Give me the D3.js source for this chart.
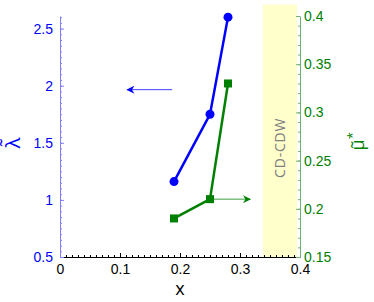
<!DOCTYPE html>
<html>
<head>
<meta charset="utf-8">
<script src="https://cdn.jsdelivr.net/npm/d3@7"></script>
<style>
  body { margin: 0; background: #fff; }
  svg { display: block; font-family: "Open Sans", sans-serif; }
</style>
</head>
<body>
<div id="chart"></div>
<script>
const xValues = [0.19, 0.25, 0.28];
const lambdaValues = [1.16, 1.75, 2.6];
const muValues = [0.19, 0.21, 0.33];

const xTicks = [0, 0.1, 0.2, 0.3, 0.4];
const lambdaTicks = [0.5, 1, 1.5, 2, 2.5];
const muTicks = [0.15, 0.2, 0.25, 0.3, 0.35, 0.4];

const band = { x0: 0.338, x1: 0.395, top: 2.71, label: "CD-CDW" };
const blueArrow = { from: 0.187, to: 0.112, y: 1.965 };
const greenArrow = { from: 0.255, to: 0.317, y: 0.21 };

const blue = "#0000ff";
const green = "#008000";

const width = 374, height = 302;
const margin = { top: 16, right: 74, bottom: 45, left: 60 };

const svg = d3.select("#chart").append("svg")
    .attr("width", width)
    .attr("height", height);

const x = d3.scaleLinear().domain([0, 0.4]).range([margin.left, width - margin.right]);
const yL = d3.scaleLinear().domain([0.5, 2.61]).range([height - margin.bottom, margin.top]);
const yR = d3.scaleLinear().domain([0.15, 0.4]).range([height - margin.bottom, margin.top]);

// shaded phase region
svg.append("rect")
    .attr("x", x(band.x0))
    .attr("width", x(band.x1) - x(band.x0))
    .attr("y", yL(band.top))
    .attr("height", yL(0.5) - yL(band.top))
    .attr("fill", "#ffffcc");

svg.append("text")
    .attr("transform", `translate(${(x(band.x0) + x(band.x1)) / 2 + 5},${(yL(band.top) + yL(0.5)) / 2 + 17}) rotate(-90)`)
    .attr("text-anchor", "middle")
    .attr("font-size", 14)
    .attr("letter-spacing", 0.8)
    .attr("fill", "#808080")
    .text(band.label);

// arrowheads
const defs = svg.append("defs");
function arrowHead(id, color) {
    defs.append("marker")
        .attr("id", id)
        .attr("viewBox", "0 0 10 10")
        .attr("refX", 9)
        .attr("refY", 5)
        .attr("markerWidth", 11)
        .attr("markerHeight", 8)
        .attr("markerUnits", "userSpaceOnUse")
        .attr("orient", "auto")
        .append("path")
        .attr("d", "M0,0 L10,5 L0,10 L3,5 Z")
        .attr("fill", color);
}
arrowHead("headBlue", blue);
arrowHead("headGreen", green);

// axes
const bottom = height - margin.bottom;

function minorAxis(axis, scale, step, g) {
    const [a, b] = scale.domain();
    const ticks = d3.range(Math.ceil(a / step - 1e-6), Math.floor(b / step + 1e-6) + 1).map(i => i * step);
    g.call(axis(scale).tickValues(ticks).tickSize(-2).tickFormat(""));
    g.select(".domain").remove();
}

const gxMinor = svg.append("g").attr("transform", `translate(0,${bottom})`);
minorAxis(d3.axisBottom, x, 0.01, gxMinor);
gxMinor.selectAll("line").attr("stroke", "#000");

const gx = svg.append("g").attr("transform", `translate(0,${bottom})`)
    .call(d3.axisBottom(x).tickValues(xTicks).tickSizeInner(-4).tickSizeOuter(0).tickPadding(7).tickFormat(d3.format("")));
gx.selectAll("text").attr("font-size", 14).attr("fill", "#000");
gx.select(".domain").attr("stroke", "#000");

const gyLMinor = svg.append("g").attr("transform", `translate(${margin.left},0)`);
minorAxis(d3.axisLeft, yL, 0.05, gyLMinor);
gyLMinor.selectAll("line").attr("stroke", "#8080ff");

const gyL = svg.append("g").attr("transform", `translate(${margin.left},0)`)
    .call(d3.axisLeft(yL).tickValues(lambdaTicks).tickSizeInner(-4).tickSizeOuter(0).tickPadding(7).tickFormat(d3.format("")));
gyL.select(".domain").attr("stroke", "#8080ff");
gyL.selectAll("line").attr("stroke", "#8080ff");
gyL.selectAll("text").attr("font-size", 14).attr("fill", blue);

const gyRMinor = svg.append("g").attr("transform", `translate(${width - margin.right},0)`);
minorAxis(d3.axisRight, yR, 0.01, gyRMinor);
gyRMinor.selectAll("line").attr("stroke", "#70b070");

const gyR = svg.append("g").attr("transform", `translate(${width - margin.right},0)`)
    .call(d3.axisRight(yR).tickValues(muTicks).tickSizeInner(-4).tickSizeOuter(0).tickPadding(4).tickFormat(d3.format("")));
gyR.select(".domain").attr("stroke", "#70b070");
gyR.selectAll("line").attr("stroke", "#70b070");
gyR.selectAll("text").attr("font-size", 14).attr("fill", green);

// axis titles
svg.append("text")
    .attr("x", x(0.2))
    .attr("y", 295)
    .attr("text-anchor", "middle")
    .attr("font-size", 18)
    .text("x");

svg.append("text")
    .attr("transform", `translate(20,${yL(1.5)}) rotate(-90)`)
    .attr("text-anchor", "middle")
    .attr("font-size", 20)
    .attr("fill", blue)
    .text("λ̃");

const muLabel = svg.append("text")
    .attr("transform", `translate(364,${yR(0.27)}) rotate(-90)`)
    .attr("text-anchor", "middle")
    .attr("font-size", 18)
    .attr("fill", green);
muLabel.append("tspan").text("μ̃");
muLabel.append("tspan").attr("dy", -7).attr("font-size", 13).text("*");

// arrows
svg.append("line")
    .attr("x1", x(blueArrow.from)).attr("x2", x(blueArrow.to))
    .attr("y1", yL(blueArrow.y)).attr("y2", yL(blueArrow.y))
    .attr("stroke", "#4040ff").attr("stroke-width", 1)
    .attr("marker-end", "url(#headBlue)");

svg.append("line")
    .attr("x1", x(greenArrow.from)).attr("x2", x(greenArrow.to))
    .attr("y1", yR(greenArrow.y)).attr("y2", yR(greenArrow.y))
    .attr("stroke", "#40a040").attr("stroke-width", 1)
    .attr("marker-end", "url(#headGreen)");

// series
const lambdaData = xValues.map((v, i) => ({ x: v, y: lambdaValues[i] }));
const muData = xValues.map((v, i) => ({ x: v, y: muValues[i] }));

svg.append("path")
    .datum(lambdaData)
    .attr("fill", "none")
    .attr("stroke", blue)
    .attr("stroke-width", 2.5)
    .attr("d", d3.line().x(d => x(d.x)).y(d => yL(d.y)));

svg.selectAll(".dot")
    .data(lambdaData)
    .enter().append("circle")
    .attr("class", "dot")
    .attr("cx", d => x(d.x))
    .attr("cy", d => yL(d.y))
    .attr("r", 4.5)
    .attr("fill", blue);

svg.append("path")
    .datum(muData)
    .attr("fill", "none")
    .attr("stroke", green)
    .attr("stroke-width", 2.5)
    .attr("d", d3.line().x(d => x(d.x)).y(d => yR(d.y)));

svg.selectAll(".sq")
    .data(muData)
    .enter().append("rect")
    .attr("class", "sq")
    .attr("x", d => x(d.x) - 4)
    .attr("y", d => yR(d.y) - 4)
    .attr("width", 8)
    .attr("height", 8)
    .attr("fill", green);
</script>
</body>
</html>
